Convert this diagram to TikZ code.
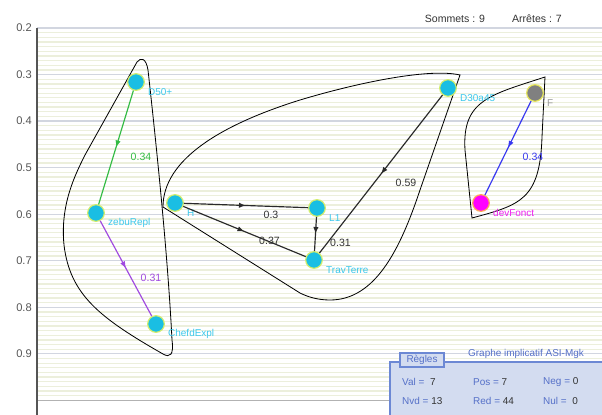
\documentclass[tikz,border=0pt]{standalone}
\usepackage{fontspec}
\setmainfont{Liberation Sans}
\usetikzlibrary{arrows.meta,calc,decorations.markings}
\definecolor{ink}{HTML}{333333}
\definecolor{axisgray}{HTML}{555555}
\definecolor{pale}{HTML}{ECEFDC}
\definecolor{gridblue}{HTML}{D2D6E0}
\definecolor{cyanfill}{HTML}{1ABEE3}
\definecolor{cyantext}{HTML}{3CC8EC}
\definecolor{rim}{HTML}{D4EE6A}
\definecolor{greenedge}{HTML}{33BB44}
\definecolor{purpleedge}{HTML}{A04AE0}
\definecolor{blueedge}{HTML}{3838F0}
\definecolor{darkedge}{HTML}{2A2A2A}
\definecolor{grayfill}{HTML}{808080}
\definecolor{grayrim}{HTML}{E6E65A}
\definecolor{magfill}{HTML}{FF00FF}
\definecolor{magrim}{HTML}{FFAA55}
\definecolor{grayname}{HTML}{9A9A9A}
\definecolor{magname}{HTML}{EE22EE}
\definecolor{panelfill}{HTML}{D3DCF0}
\definecolor{panelline}{HTML}{6C88D4}
\definecolor{paneltext}{HTML}{5570C8}
\tikzset{
  every node/.style={font=\fontsize{8.5}{10}\selectfont,inner sep=0pt},
  stripe/.style={draw=pale,line width=1.1pt},
  gridline/.style={draw=gridblue,line width=1.1pt},
  axis/.style={draw=axisgray,line width=1pt},
  tick/.style={font=\fontsize{9.5}{11}\selectfont,text=axisgray,anchor=east},
  hull/.style={draw=black,line width=.7pt},
  vertex/.style={circle,minimum size=.5cm,fill=cyanfill,draw=rim,line width=1pt},
  lab/.style={anchor=west},
  edge/.style={line width=1pt,postaction={decorate},
    decoration={markings,mark=at position .5 with {\arrow{Latex[length=2.1mm,width=1.6mm]}}}},
  elab/.style={xshift=.75cm,yshift=-.27cm,font=\fontsize{9}{11}\selectfont},
  info/.style={font=\fontsize{9}{11}\selectfont,text=ink},
  panel/.style={draw=panelline,fill=panelfill,line width=.9pt},
  ptext/.style={text=paneltext,anchor=west},
}
\newcommand{\vtx}[6]{%
  \node[#4] (#1) at (#2,#3) {};
  \node[lab,text=#6] (#1l) at ($(#1)+(12,10)$) {#5};}

\begin{document}
\begin{tikzpicture}[x=.03cm,y=-.03cm]
\path[use as bounding box] (0,0) rectangle (602,415);
\clip (0,0) rectangle (602,415);
\fill[white] (0,0) rectangle (602,415);
% striped scale, one line every 0.01
\foreach \k in {1,...,79}
  \draw[stripe] (37,28+\k*4.655) -- (602,28+\k*4.655);
\foreach \v [count=\k from 0] in {0.2,0.3,0.4,0.5,0.6,0.7,0.8,0.9} {
  \draw[gridline] (37,28+\k*46.55) -- (602,28+\k*46.55);
  \node[tick] (tick\k) at (32,28+\k*46.55) {\v};
}
\draw[gridline,draw=gray!60] (37,400.4) -- (602,400.4);
\draw[axis] (37,28) -- (37,415);
\node[info] (sommets) at (455,19) {Sommets : 9};
\node[info] (arretes) at (537,19) {Arrêtes : 7};
% class hulls
\draw[hull] (137,62) .. controls (141,57) and (146,58) .. (148,70)
  .. controls (158,160) and (168,260) .. (172,340)
  .. controls (174,355) and (170,358) .. (163,354)
  .. controls (100,318) and (70,295) .. (64,245)
  .. controls (60,205) and (75,175) .. (85,155) -- cycle;
\draw[hull] (163,207) .. controls (163,160) and (220,125) .. (300,100)
  .. controls (360,82) and (430,68) .. (460,75) -- (420,190)
  .. controls (400,250) and (375,300) .. (330,300)
  .. controls (318,300) and (308,297) .. (300,293) -- cycle;
\draw[hull] (545,77) .. controls (490,95) and (462,100) .. (465,150) -- (472,218)
  .. controls (520,205) and (540,200) .. (542,137) -- cycle;
% vertices
\vtx{dfifty}{136}{82}{vertex}{D50+}{cyantext}
\vtx{zebu}{96}{213}{vertex}{zebuRepl}{cyantext}
\vtx{chef}{156}{324}{vertex}{ChefdExpl}{cyantext}
\vtx{h}{175}{203}{vertex}{H}{cyantext}
\vtx{lone}{317}{208}{vertex}{L1}{cyantext}
\vtx{trav}{314}{260}{vertex}{TravTerre}{cyantext}
\vtx{dthirty}{448}{88}{vertex}{D30a45}{cyantext}
\vtx{f}{535}{93}{vertex,fill=grayfill,draw=grayrim}{F}{grayname}
\vtx{dev}{481}{203}{vertex,fill=magfill,draw=magrim}{devFonct}{magname}
% implications
\draw[edge,color=greenedge] (dfifty) -- node[elab]{0.34} (zebu);
\draw[edge,color=purpleedge] (zebu) -- node[elab]{0.31} (chef);
\draw[edge,color=darkedge] (h) -- node[elab,text=ink]{0.3} (lone);
\draw[edge,color=darkedge] (h) -- node[elab,text=ink]{0.37} (trav);
\draw[edge,color=darkedge] (lone) -- node[elab,text=ink]{0.31} (trav);
\draw[edge,color=darkedge] (dthirty) -- node[elab,text=ink]{0.59} (trav);
\draw[edge,color=blueedge] (f) -- node[elab]{0.34} (dev);
% rules panel
\draw[panel] (390,362) rectangle (610,420);
\draw[panel] (400,353) rectangle (444,367);
\node[text=paneltext] (regles) at (422,360) {Règles};
\node[text=paneltext] (titre) at (526,354) {Graphe implicatif ASI-Mgk};
\node[ptext] (val) at (402,382) {Val =~~\textcolor{ink}{7}};
\node[ptext] (pos) at (473,382) {Pos = \textcolor{ink}{7}};
\node[ptext] (neg) at (543,382) {Neg = \textcolor{ink}{0}};
\node[ptext] (nvd) at (402,401) {Nvd = \textcolor{ink}{13}};
\node[ptext] (red) at (473,401) {Red = \textcolor{ink}{44}};
\node[ptext] (nul) at (543,401) {Nul =~~\textcolor{ink}{0}};
\end{tikzpicture}
\end{document}
